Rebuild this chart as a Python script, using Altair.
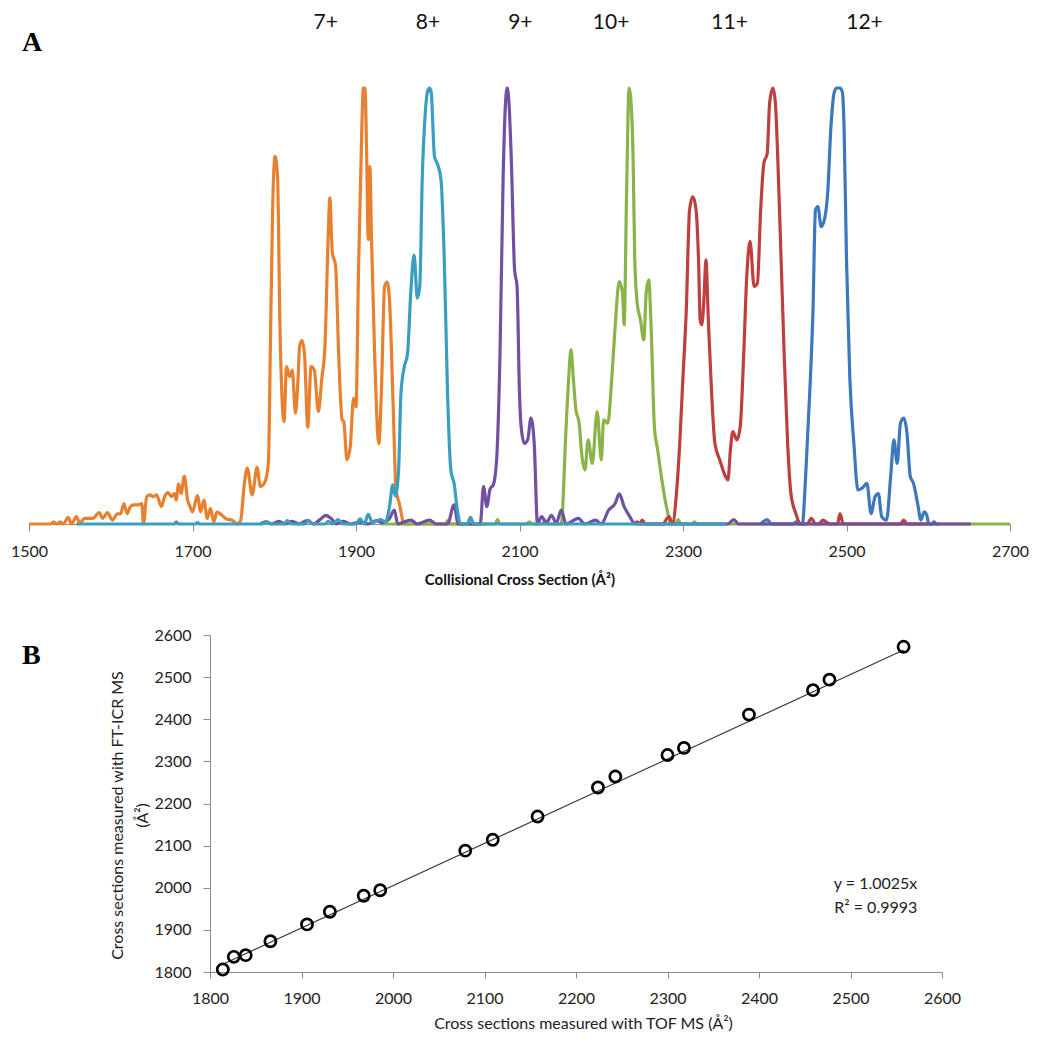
import altair as alt
import pandas as pd

# ---------------- Panel A : arrival-time derived CCS distributions ----------------
# (collisional cross section in A^2, normalised intensity)
CHARGE_7 = [(1500,0),(1527,0),(1530,.005),(1534,0),(1538,.005),(1542,0),(1548,.015),(1552,0),(1558,.017),
            (1562,.002),(1568,.013),(1578,.013),(1586,.026),(1590,.013),(1596,.026),(1602,.009),(1608,.023),
            (1612,.023),(1616,.047),(1620,.024),(1624,.04),(1628,.044),(1634,.044),(1638,.047),(1640,0),
            (1644,.063),(1648,.067),(1652,.063),(1656,.067),(1662,.04),(1666,.063),(1670,.072),(1674,.063),
            (1678,.07),(1680,.055),(1683,.092),(1686,.07),(1690,.11),(1694,.055),(1697,.04),(1700,.028),
            (1706,.065),(1710,.028),(1714,.055),(1718,.013),(1722,.036),(1726,.005),(1730,.028),(1736,.02),
            (1742,.011),(1748,.009),(1755,0),(1759,.009),(1763,.085),(1767,.128),(1773,.067),(1779,.13),
            (1783,.086),(1789,.098),(1793,.147),(1795,.376),(1798,.72),(1801,.843),(1804,.797),(1807,.453),
            (1812,.235),(1815,.361),(1819,.338),(1822,.353),(1826,.254),(1829,.33),(1831,.407),(1834,.421),
            (1837,.39),(1841,.222),(1845,.361),(1849,.353),(1854,.258),(1858,.33),(1862,.407),(1866,.66),
            (1868,.748),(1871,.623),(1875,.593),(1879,.379),(1883,.239),(1885,.235),(1889,.147),(1893,.178),
            (1897,.288),(1900,.269),(1903,.575),(1907,.9),(1909,1.0),(1911,1.0),(1913,.85),(1915,.652),
            (1917,.82),(1919,.652),(1923,.377),(1928,.184),(1931,.3),(1935,.545),(1938,.555),(1941,.513),
            (1945,.3),(1949,.078),(1953,.047),(1959,0),(2060,0)]

CHARGE_8 = [(1558,0),(1678,0),(1680,.005),(1683,0),(1704,0),(1706,.003),(1709,0),(1785,0),(1790,.005),
            (1796,0),(1812,0),(1816,.008),(1821,0),(1838,0),(1842,.008),(1847,0),(1862,0),(1866,.006),
            (1871,0),(1878,.01),(1884,0),(1900,0),(1905,.012),(1910,0),(1915,.022),(1920,.003),(1930,.01),
            (1936,.005),(1941,.04),(1945,.09),(1948,.065),(1952,.12),(1955,.3),(1959,.36),(1963,.39),
            (1967,.53),(1971,.617),(1975,.518),(1978,.545),(1981,.79),(1985,.95),(1988,.995),(1990,1.0),
            (1992,.99),(1996,.843),(2000,.824),(2004,.79),(2008,.606),(2012,.3),(2016,.124),(2020,.093),
            (2024,.032),(2028,0),(2036,0),(2040,.015),(2044,0),(2353,0)]

CHARGE_9 = [(1783,0),(1790,.005),(1797,0),(1806,.006),(1813,0),(1822,.006),(1830,0),(1840,.008),(1848,0),
            (1856,.01),(1863,.02),(1870,.012),(1876,0),(1885,.006),(1893,0),(1905,.004),(1915,0),(1925,.008),
            (1932,.003),(1940,.01),(1947,.032),(1951,0),(1967,.009),(1975,0),(1990,.009),(1998,0),(2012,0),
            (2020,.044),(2025,0),(2052,0),(2056,.086),(2060,.04),(2064,.08),(2068,.09),(2072,.147),(2076,.376),
            (2080,.797),(2083,.97),(2085,1.0),(2087,.97),(2090,.835),(2094,.583),(2097,.545),(2100,.3),
            (2102,.223),(2106,.185),(2110,.193),(2114,.243),(2118,.185),(2122,0),(2127,.017),(2133,.002),
            (2139,.02),(2145,.002),(2151,.032),(2157,0),(2172,.013),(2180,0),(2193,.009),(2200,0),(2209,.032),
            (2217,.047),(2222,.069),(2228,.04),(2234,.02),(2242,0),(2355,0),(2362,.01),(2368,0),(2605,0),
            (2607,.005),(2610,0),(2652,0)]

CHARGE_10 = [(1930,0),(2010,0),(2012,.008),(2015,0),(2070,0),(2073,.01),(2076,0),(2108,0),(2112,.005),
             (2116,0),(2128,0),(2131,.009),(2135,0),(2151,0),(2157,.223),(2160,.33),(2163,.4),(2166,.33),
             (2169,.262),(2173,.231),(2176,.162),(2180,.124),(2184,.193),(2189,.139),(2195,.258),(2200,.147),
             (2203,.239),(2208,.231),(2213,.338),(2217,.453),(2222,.556),(2226,.53),(2228,.457),(2231,.76),
             (2234,1.0),(2237,.95),(2239,.835),(2241,.606),(2244,.506),(2248,.468),(2252,.422),(2255,.53),
             (2258,.56),(2261,.453),(2265,.223),(2269,.17),(2273,.116),(2279,.047),(2286,0),(2291,0),
             (2294,.01),(2297,0),(2311,0),(2314,.005),(2317,0),(2700,0)]

CHARGE_11 = [(2240,0),(2244,.005),(2247,0),(2250,.009),(2254,0),(2276,0),(2279,.009),(2283,.017),(2287,0),
             (2292,.07),(2296,.185),(2300,.338),(2304,.49),(2308,.72),(2312,.751),(2316,.72),(2319,.606),
             (2321,.468),(2323,.457),(2326,.53),(2328,.606),(2331,.468),(2335,.3),(2339,.185),(2345,.147),
             (2352,.109),(2355,.101),(2358,.17),(2361,.212),(2366,.193),(2370,.223),(2374,.376),(2378,.568),
             (2382,.648),(2387,.545),(2391,.552),(2395,.72),(2399,.828),(2403,.85),(2406,.966),(2410,1.0),
             (2413,.966),(2416,.835),(2420,.606),(2424,.376),(2428,.185),(2432,.07),(2438,.024),(2444,0),
             (2452,0),(2457,.013),(2462,0),(2466,0),(2471,.009),(2475,.005),(2480,0),(2489,0),(2492,.024),
             (2496,0),(2566,0),(2570,.009),(2574,0),(2600,0)]

CHARGE_12 = [(2395,0),(2403,.01),(2408,0),(2435,0),(2438,.005),(2441,0),(2446,0),(2450,.109),(2455,.3),
             (2459,.49),(2462,.72),(2465,.728),(2469,.682),(2473,.698),(2477,.76),(2481,.912),(2485,.99),
             (2488,1.0),(2492,1.0),(2495,.99),(2497,.912),(2500,.606),(2504,.338),(2509,.185),(2514,.078),
             (2519,.082),(2525,.093),(2530,.024),(2535,.063),(2539,.07),(2543,.017),(2549,.009),(2554,.109),
             (2558,.193),(2562,.139),(2566,.231),(2570,.243),(2574,.208),(2578,.109),(2582,.093),(2587,.047),
             (2591,.009),(2595,.028),(2598,.021),(2601,0),(2612,0)]

CHARGE_LABELS = ["7+", "8+", "9+", "10+", "11+", "12+"]
CHARGE_LABEL_CCS = [1863, 1988, 2101, 2212, 2357, 2522]
A_TICKS = [1500, 1700, 1900, 2100, 2300, 2500, 2700]

# ---------------- Panel B : FT-ICR vs TOF cross sections ----------------
TOF_CCS = [1814, 1826, 1839, 1866, 1906, 1931, 1968, 1986, 2079, 2109, 2158,
           2224, 2243, 2300, 2318, 2389, 2459, 2477, 2558]
FTICR_CCS = [1806, 1836, 1840, 1873, 1913, 1943, 1981, 1994, 2088, 2114, 2169,
             2238, 2264, 2315, 2332, 2411, 2469, 2494, 2572]
FIT_SLOPE = 1.0025
FIT_TEXT = ["y = 1.0025x", "R² = 0.9993"]
FIT_TEXT_X = [2573, 2573]
FIT_TEXT_Y = [2009, 1951]
B_TICKS = [1800, 1900, 2000, 2100, 2200, 2300, 2400, 2500, 2600]

# ---------------- layout / style ----------------
W, H = 1023, 1030
A_X_RANGE = [21, 1002]
A_Y_RANGE = [516, 80]
B_X_RANGE = [202, 934]
B_Y_RANGE = [964, 627]
GRAY = "#8a8a8a"
FONT = "Lato"

SERIES = [
    ("7+", CHARGE_7, "#E8812F"),
    ("10+", CHARGE_10, "#8BB34A"),
    ("11+", CHARGE_11, "#BF3E3E"),
    ("12+", CHARGE_12, "#3C78BC"),
    ("9+", CHARGE_9, "#7250A0"),
    ("8+", CHARGE_8, "#3B9EBE"),
]

xA = alt.Scale(domain=[1500, 2700], range=A_X_RANGE, nice=False, zero=False)
yA = alt.Scale(domain=[0, 1], range=A_Y_RANGE, nice=False, zero=False)
axisA = alt.Axis(orient="bottom", offset=A_Y_RANGE[0] - H, values=A_TICKS, format="d", grid=False,
                 domainColor=GRAY, tickColor=GRAY, tickSize=7, labelFont=FONT, labelFontSize=16,
                 labelColor="#222222", labelPadding=12, labelFlush=False,
                 title="Collisional Cross Section (Å²)", titleFont=FONT, titleFontSize=15,
                 titleFontWeight="bold", titleColor="#111111", titlePadding=13)

a_layers = []
for name, pts, col in SERIES:
    df = pd.DataFrame(pts, columns=["ccs", "intensity"])
    a_layers.append(
        alt.Chart(df).mark_line(color=col, strokeWidth=3.2, interpolate="monotone").encode(
            x=alt.X("ccs:Q", scale=xA, axis=axisA),
            y=alt.Y("intensity:Q", scale=yA, axis=None),
        )
    )

lab_df = pd.DataFrame({"ccs": CHARGE_LABEL_CCS, "intensity": [1.148] * len(CHARGE_LABELS),
                       "label": CHARGE_LABELS})
a_layers.append(
    alt.Chart(lab_df).mark_text(font=FONT, fontSize=21, color="#111111", align="center",
                                baseline="middle").encode(
        x=alt.X("ccs:Q", scale=xA, axis=axisA),
        y=alt.Y("intensity:Q", scale=yA, axis=None),
        text="label:N",
    )
)
panelA = alt.layer(*a_layers)

xB = alt.Scale(domain=[1800, 2600], range=B_X_RANGE, nice=False, zero=False)
yB = alt.Scale(domain=[1800, 2600], range=B_Y_RANGE, nice=False, zero=False)
axisBx = alt.Axis(orient="bottom", offset=B_Y_RANGE[0] - H, values=B_TICKS, format="d", grid=False,
                  domainColor=GRAY, tickColor=GRAY, tickSize=6, labelFont=FONT, labelFontSize=16,
                  labelColor="#222222", labelPadding=12, labelFlush=False,
                  title="Cross sections measured with TOF MS (Å²)", titleFont=FONT, titleFontSize=16,
                  titleFontWeight="normal", titleColor="#222222", titlePadding=9, titleX=575)
axisBy = alt.Axis(orient="left", offset=-B_X_RANGE[0], values=B_TICKS, format="d", grid=False,
                  domainColor=GRAY, tickColor=GRAY, tickSize=7, labelFont=FONT, labelFontSize=16,
                  labelColor="#222222", labelPadding=12,
                  title=["Cross sections measured with FT-ICR MS", "(Å²)"], titleFont=FONT,
                  titleFontSize=16, titleFontWeight="normal", titleColor="#222222", titlePadding=3,
                  titleLineHeight=25, titleY=807)

pts_df = pd.DataFrame({"tof": TOF_CCS, "fticr": FTICR_CCS})
trend_x = [min(TOF_CCS), max(TOF_CCS)]
trend_df = pd.DataFrame({"tof": trend_x, "fticr": [FIT_SLOPE * v for v in trend_x]})
fit_df = pd.DataFrame({"tof": FIT_TEXT_X, "fticr": FIT_TEXT_Y, "txt": FIT_TEXT})

encB = dict(x=alt.X("tof:Q", scale=xB, axis=axisBx), y=alt.Y("fticr:Q", scale=yB, axis=axisBy))
trend = alt.Chart(trend_df).mark_line(color="#333333", strokeWidth=1.1).encode(**encB)
points = alt.Chart(pts_df).mark_point(shape="circle", filled=False, size=125, strokeWidth=2.7,
                                      color="#000000", opacity=1).encode(**encB)
fit_txt = alt.Chart(fit_df).mark_text(font=FONT, fontSize=16, color="#222222", align="right",
                                      baseline="middle").encode(text="txt:N", **encB)
panelB = alt.layer(trend, points, fit_txt)

letter_df = pd.DataFrame({"t": ["A"]})
letter_b_df = pd.DataFrame({"t": ["B"]})
letterA = alt.Chart(letter_df).mark_text(font="Liberation Serif", fontWeight="bold", fontSize=28,
                                         align="left", baseline="middle", color="#000000").encode(
    x=alt.value(14), y=alt.value(35), text="t:N")
letterB = alt.Chart(letter_b_df).mark_text(font="Liberation Serif", fontWeight="bold", fontSize=28,
                                           align="left", baseline="middle", color="#000000").encode(
    x=alt.value(14), y=alt.value(648), text="t:N")

chart = alt.layer(panelA, panelB, letterA, letterB).resolve_scale(
    x="independent", y="independent"
).properties(
    width=W, height=H, padding=0,
    autosize=alt.AutoSizeParams(type="none"),
    background="white",
).configure_view(stroke=None)

chart.save("out.html", embed_options={"renderer": "svg", "actions": False})
